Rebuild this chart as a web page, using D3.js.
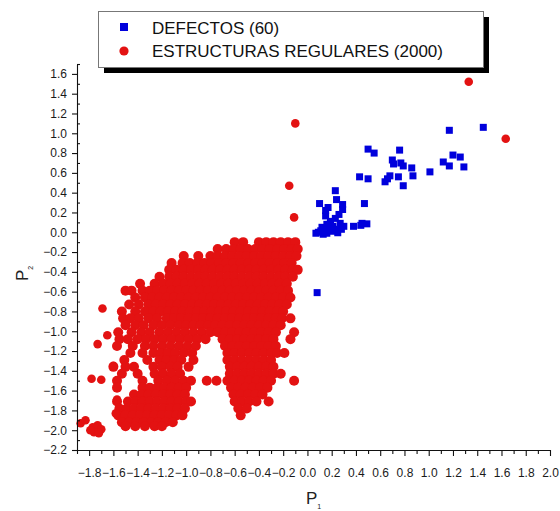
<!DOCTYPE html>
<html><head><meta charset="utf-8">
<script src="https://cdn.jsdelivr.net/npm/d3@7"></script>
<style>
html,body{margin:0;padding:0;background:#fff;}
svg{display:block;font-family:"Liberation Sans",Arial,sans-serif;}
</style></head>
<body><svg id="c" width="560" height="511"></svg>
<script>
// ---- data ----
const seriesNames = ["DEFECTOS (60)", "ESTRUCTURAS REGULARES (2000)"];
const xMajorTicks = [-1.8,-1.6,-1.4,-1.2,-1.0,-0.8,-0.6,-0.4,-0.2,0.0,0.2,0.4,0.6,0.8,1.0,1.2,1.4,1.6,1.8,2.0];
const xMinorTicks = [-1.9,-1.7,-1.5,-1.3,-1.1,-0.9,-0.7,-0.5,-0.3,-0.1,0.1,0.3,0.5,0.7,0.9,1.1,1.3,1.5,1.7,1.9];
const yMajorTicks = [-2.2,-2.0,-1.8,-1.6,-1.4,-1.2,-1.0,-0.8,-0.6,-0.4,-0.2,0.0,0.2,0.4,0.6,0.8,1.0,1.2,1.4,1.6];
const yMinorTicks = [-2.1,-1.9,-1.7,-1.5,-1.3,-1.1,-0.9,-0.7,-0.5,-0.3,-0.1,0.1,0.3,0.5,0.7,0.9,1.1,1.3,1.5,1.7];

// DEFECTOS (blue squares): [P1, P2]
const defectos = [
[1.17,1.03],[1.45,1.06],[0.50,0.84],[0.55,0.80],[0.76,0.83],[0.70,0.73],[0.77,0.70],[0.79,0.67],
[0.86,0.65],[0.87,0.57],[0.75,0.56],[0.68,0.57],[0.66,0.54],[0.64,0.51],[0.79,0.47],[1.01,0.61],
[1.12,0.71],[1.17,0.67],[1.20,0.78],[1.26,0.76],[1.29,0.66],[0.43,0.56],[0.50,0.54],[0.23,0.42],
[0.24,0.33],[0.10,0.29],[0.29,0.28],[0.47,0.29],[0.15,0.22],[0.29,0.23],[0.15,0.165],[0.23,0.14],
[0.19,0.11],[0.27,0.09],[0.38,0.06],[0.44,0.07],[0.49,0.085],[0.45,0.09],[0.07,-0.01],[0.11,0.015],
[0.16,-0.01],[0.20,0.01],[0.24,0.025],[0.135,0.04],[0.21,0.06],[0.18,0.08],[0.25,-0.005],[0.08,-0.61],
[0.12,0.05],[0.22,0.03],[0.30,0.06],[0.17,0.25],[0.26,0.18],[0.09,0.00],[0.14,0.01],[0.19,0.04],
[0.28,0.03],[0.16,0.08],[0.71,0.69],[0.13,-0.02]
];

// ESTRUCTURAS REGULARES (red circles), read row by row: [P2, [P1 values]]
const regularRows = [
[-0.10,[-0.60,-0.53,-0.40,-0.34,-0.28,-0.22,-0.16,-0.10]],
[-0.17,[-0.74,-0.67,-0.61,-0.55,-0.49,-0.43,-0.37,-0.31,-0.25,-0.19,-0.13,-0.08]],
[-0.24,[-1.02,-0.90,-0.80,-0.74,-0.68,-0.62,-0.56,-0.50,-0.44,-0.38,-0.32,-0.26,-0.20,-0.14,-0.09]],
[-0.31,[-1.12,-1.03,-0.97,-0.91,-0.85,-0.79,-0.73,-0.67,-0.61,-0.55,-0.49,-0.43,-0.37,-0.31,-0.25,-0.19,-0.13]],
[-0.38,[-1.14,-1.08,-1.02,-0.96,-0.90,-0.84,-0.78,-0.72,-0.66,-0.60,-0.54,-0.48,-0.42,-0.36,-0.30,-0.24,-0.18,-0.12,-0.08]],
[-0.45,[-1.22,-1.14,-1.08,-1.02,-0.96,-0.90,-0.84,-0.78,-0.72,-0.66,-0.60,-0.54,-0.48,-0.42,-0.36,-0.30,-0.24,-0.18,-0.12]],
[-0.52,[-1.38,-1.26,-1.19,-1.13,-1.07,-1.01,-0.95,-0.89,-0.83,-0.77,-0.71,-0.65,-0.59,-0.53,-0.47,-0.41,-0.35,-0.29,-0.23,-0.17]],
[-0.59,[-1.50,-1.45,-1.36,-1.30,-1.24,-1.18,-1.12,-1.06,-1.00,-0.94,-0.88,-0.82,-0.76,-0.70,-0.64,-0.58,-0.52,-0.46,-0.40,-0.34,-0.28,-0.22,-0.16]],
[-0.66,[-1.42,-1.34,-1.28,-1.22,-1.16,-1.10,-1.04,-0.98,-0.92,-0.86,-0.80,-0.74,-0.68,-0.62,-0.56,-0.50,-0.44,-0.38,-0.32,-0.26,-0.20,-0.14]],
[-0.73,[-1.47,-1.39,-1.31,-1.25,-1.19,-1.13,-1.07,-1.01,-0.95,-0.89,-0.83,-0.77,-0.71,-0.65,-0.59,-0.53,-0.47,-0.41,-0.35,-0.29,-0.23,-0.17]],
[-0.80,[-1.53,-1.42,-1.34,-1.27,-1.21,-1.15,-1.09,-1.03,-0.97,-0.91,-0.85,-0.79,-0.73,-0.67,-0.61,-0.55,-0.49,-0.43,-0.37,-0.31,-0.25,-0.20]],
[-0.87,[-1.52,-1.46,-1.39,-1.31,-1.24,-1.16,-1.10,-1.04,-0.98,-0.92,-0.86,-0.80,-0.74,-0.68,-0.62,-0.56,-0.50,-0.44,-0.38,-0.32,-0.26,-0.21,-0.14]],
[-0.94,[-1.50,-1.42,-1.35,-1.27,-1.20,-1.13,-1.06,-1.00,-0.94,-0.88,-0.82,-0.76,-0.70,-0.64,-0.58,-0.52,-0.46,-0.40,-0.34,-0.28,-0.22]],
[-1.01,[-1.56,-1.45,-1.37,-1.30,-1.22,-1.15,-1.08,-1.01,-0.94,-0.87,-0.80,-0.74,-0.68,-0.62,-0.56,-0.50,-0.44,-0.38,-0.32,-0.26,-0.11]],
[-1.08,[-1.55,-1.48,-1.40,-1.33,-1.26,-1.19,-1.12,-1.05,-0.98,-0.91,-0.84,-0.70,-0.64,-0.58,-0.52,-0.46,-0.40,-0.34,-0.28,-0.14]],
[-1.15,[-1.57,-1.44,-1.34,-1.27,-1.20,-1.13,-1.06,-0.99,-0.92,-0.68,-0.62,-0.56,-0.50,-0.44,-0.38,-0.32,-0.26]],
[-1.22,[-1.46,-1.36,-1.27,-1.21,-1.15,-1.09,-1.02,-0.95,-0.66,-0.60,-0.54,-0.48,-0.42,-0.36,-0.30,-0.25,-0.19]],
[-1.29,[-1.51,-1.32,-1.22,-1.16,-1.10,-1.04,-0.94,-0.66,-0.60,-0.54,-0.48,-0.42,-0.36,-0.30]],
[-1.36,[-1.60,-1.50,-1.43,-1.27,-1.20,-1.13,-1.07,-0.98,-0.64,-0.58,-0.52,-0.46,-0.40,-0.34,-0.28]],
[-1.43,[-1.53,-1.40,-1.26,-1.19,-1.12,-1.05,-0.64,-0.58,-0.52,-0.46,-0.40,-0.34,-0.28,-0.22]],
[-1.50,[-1.57,-1.36,-1.23,-1.16,-1.09,-1.02,-0.96,-0.83,-0.75,-0.66,-0.60,-0.54,-0.48,-0.42,-0.36,-0.30,-0.11]],
[-1.57,[-1.57,-1.36,-1.30,-1.24,-1.18,-1.12,-1.06,-1.00,-0.63,-0.57,-0.51,-0.45,-0.39,-0.33]],
[-1.64,[-1.43,-1.37,-1.31,-1.25,-1.19,-1.13,-1.07,-1.01,-0.61,-0.55,-0.49,-0.43,-0.37]],
[-1.71,[-1.57,-1.48,-1.42,-1.36,-1.30,-1.24,-1.18,-1.12,-1.06,-1.00,-0.96,-0.60,-0.54,-0.48,-0.42,-0.32]],
[-1.78,[-1.55,-1.49,-1.43,-1.37,-1.31,-1.25,-1.19,-1.13,-1.07,-1.01,-0.57,-0.50]],
[-1.85,[-1.56,-1.50,-1.44,-1.38,-1.32,-1.26,-1.20,-1.14,-1.08,-1.03,-0.55]],
[-1.92,[-1.53,-1.47,-1.41,-1.35,-1.29,-1.23,-1.17,-1.11]],
[-1.96,[-1.50,-1.42,-1.34,-1.26,-1.20]]
];
// isolated red points: [P1, P2]
const regularIsolated = [
[1.33,1.52],[1.635,0.945],[-0.10,1.10],[-0.15,0.47],[-0.11,0.15],
[-1.69,-0.77],[-1.73,-1.13],[-1.65,-1.04],[-1.78,-1.48],[-1.70,-1.49],[-1.60,-1.35],[-1.58,-1.83],[-1.57,-1.69],
[-1.87,-1.93],[-1.83,-1.90],[-1.77,-1.97],[-1.73,-1.95],[-1.70,-1.99],[-1.76,-2.02],[-1.72,-2.03],[-1.79,-2.00]
];

// ---- drawing ----
const svg = d3.select("#c");
const x = d3.scaleLinear().domain([-1.9, 2.0]).range([77, 550]);
const y = d3.scaleLinear().domain([-2.2, 1.7]).range([450, 64]);
const fmt = v => (Math.abs(v) < 1e-9 ? 0 : v).toFixed(1).replace("-", "\u2212");
const blue = "#0000dc", red = "#e31212";

const regularCloud = [];
regularRows.forEach(([py, xs]) => xs.forEach(px => regularCloud.push([px, py])));

// red points
const gr = svg.append("g");
gr.selectAll("circle.cl").data(regularCloud).join("circle").attr("class", "cl")
  .attr("cx", d => x(d[0])).attr("cy", d => y(d[1])).attr("r", 5.0).attr("fill", red);
gr.selectAll("circle.iso").data(regularIsolated).join("circle").attr("class", "iso")
  .attr("cx", d => x(d[0])).attr("cy", d => y(d[1])).attr("r", 4.3).attr("fill", red);
// blue squares
const sq = 7;
svg.append("g").selectAll("rect").data(defectos).join("rect")
  .attr("x", d => x(d[0]) - sq/2).attr("y", d => y(d[1]) - sq/2)
  .attr("width", sq).attr("height", sq).attr("fill", blue);

// axes
svg.append("g").attr("transform", "translate(0,450)")
  .call(d3.axisBottom(x).tickValues(xMajorTicks).tickFormat(fmt).tickSize(6).tickSizeOuter(0).tickPadding(12));
svg.append("g").attr("transform", "translate(0,450)")
  .call(d3.axisBottom(x).tickValues(xMinorTicks).tickFormat("").tickSize(4).tickSizeOuter(0))
  .select(".domain").remove();
svg.append("g").attr("transform", "translate(77,0)")
  .call(d3.axisLeft(y).tickValues(yMajorTicks).tickFormat(fmt).tickSize(5).tickSizeOuter(0).tickPadding(5));
svg.append("g").attr("transform", "translate(77,0)")
  .call(d3.axisRight(y).tickValues(yMinorTicks).tickFormat("").tickSize(3).tickSizeOuter(0))
  .select(".domain").remove();
svg.selectAll(".tick text").attr("font-size", 12).attr("font-family", '"Liberation Sans",Arial,sans-serif').attr("fill", "#1a1a1a");
svg.selectAll(".domain, .tick line").attr("stroke", "#111").attr("stroke-width", 1.1);

// axis titles
const xt = svg.append("text").attr("x", 306).attr("y", 504).attr("font-size", 17).attr("fill", "#222");
xt.append("tspan").text("P");
xt.append("tspan").attr("dy", 5).attr("font-size", 7).text("1");
const yt = svg.append("text").attr("transform", "translate(28,281) rotate(-90)").attr("font-size", 17).attr("fill", "#222");
yt.append("tspan").text("P");
yt.append("tspan").attr("dy", 5).attr("font-size", 7).text("2");

// legend
svg.append("rect").attr("x", 104).attr("y", 17).attr("width", 385).attr("height", 56).attr("fill", "#000");
svg.append("rect").attr("x", 98.5).attr("y", 11.5).attr("width", 385).attr("height", 56)
  .attr("fill", "#fff").attr("stroke", "#777").attr("stroke-width", 1);
svg.append("rect").attr("x", 120).attr("y", 23).attr("width", 8).attr("height", 8).attr("fill", blue);
svg.append("circle").attr("cx", 124).attr("cy", 51).attr("r", 4.6).attr("fill", red);
svg.append("text").attr("x", 152).attr("y", 34).attr("font-size", 17).attr("fill", "#111").text(seriesNames[0]);
svg.append("text").attr("x", 152).attr("y", 57).attr("font-size", 17).attr("fill", "#111").text(seriesNames[1]);
</script></body></html>
